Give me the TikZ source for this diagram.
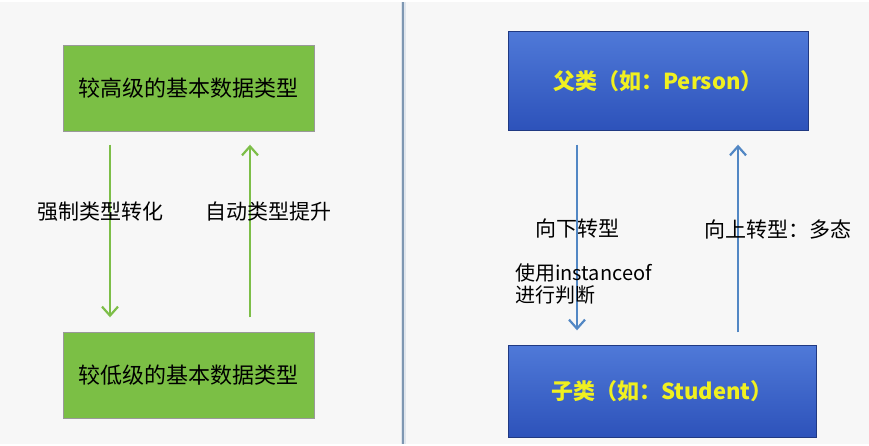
\documentclass[tikz,border=0pt]{standalone}
\usepackage{fontspec}
\setmainfont{Noto Sans CJK SC}
\usetikzlibrary{arrows.meta}
\definecolor{PageBg}{HTML}{F7F7F7}
\definecolor{BoxGreen}{HTML}{7BBF45}
\definecolor{ArrowGreen}{HTML}{7DBE48}
\definecolor{BlueTop}{HTML}{4F79D8}
\definecolor{BlueBot}{HTML}{2D52BA}
\definecolor{ArrowBlue}{HTML}{5287C4}
\definecolor{RuleBlue}{HTML}{7E97B2}
\definecolor{TextYellow}{HTML}{F0F020}
\tikzset{
  gbox/.style={draw=black!40, fill=BoxGreen, minimum width=251pt,
    minimum height=86pt, inner sep=0pt, font=\fontsize{22}{26}\selectfont},
  bbox/.style={draw=BlueBot!70!black, top color=BlueTop, bottom color=BlueBot,
    inner sep=0pt, text=TextYellow, font=\fontsize{22}{26}\selectfont\bfseries},
  lbl/.style={font=\fontsize{21}{24}\selectfont, inner sep=0pt},
  garrow/.style={-{Straight Barb[length=9pt,width=16pt]}, line width=2.2pt, draw=ArrowGreen},
  barrow/.style={-{Straight Barb[length=9pt,width=16pt]}, line width=2.2pt, draw=ArrowBlue},
}
\begin{document}
\begin{tikzpicture}[x=1pt, y=-1pt]
    \fill[PageBg] (0,0) rectangle (869,441);
    % divider
    \draw[RuleBlue!25, line width=5pt] (403,0) -- (403,441);
    \draw[RuleBlue, line width=1.5pt] (403,0) -- (403,441);

    % left: primitive types
    \node[gbox] (hi) at (188.5,86) {较高级的基本数据类型};
    \node[gbox] (lo) at (188.5,373) {较低级的基本数据类型};
    \draw[garrow] ([shift={(-78.5,13)}]hi.south) -- ([shift={(-78.5,-15)}]lo.north)
      node[lbl, midway, xshift=-10pt, yshift=19pt] (cast) {强制类型转化};
    \draw[garrow] ([shift={(61.5,-15)}]lo.north) -- ([shift={(61.5,13)}]hi.south)
      node[lbl, midway, xshift=18pt, yshift=19pt] (promo) {自动类型提升};

    % right: class types
    \node[bbox, minimum width=300pt, minimum height=99pt] (par) at (658,78.5) {父类（如：Person）};
    \node[bbox, minimum width=308pt, minimum height=92pt] (sub) at (662,389) {子类（如：Student）};
    \draw[barrow] ([shift={(-81,14)}]par.south) -- ([shift={(-85,-15)}]sub.north)
      node[lbl, pos=0.45] (down) {向下转型};
    \draw[barrow] ([shift={(76,-13)}]sub.north) -- ([shift={(80,14)}]par.south)
      node[lbl, pos=0.55, xshift=40pt] (up) {向上转型：多态};
    \node[lbl, align=left, anchor=west, font=\fontsize{20}{22}\selectfont] (inst) at (515,281)
      {使用instanceof\\进行判断};
\end{tikzpicture}
\end{document}
